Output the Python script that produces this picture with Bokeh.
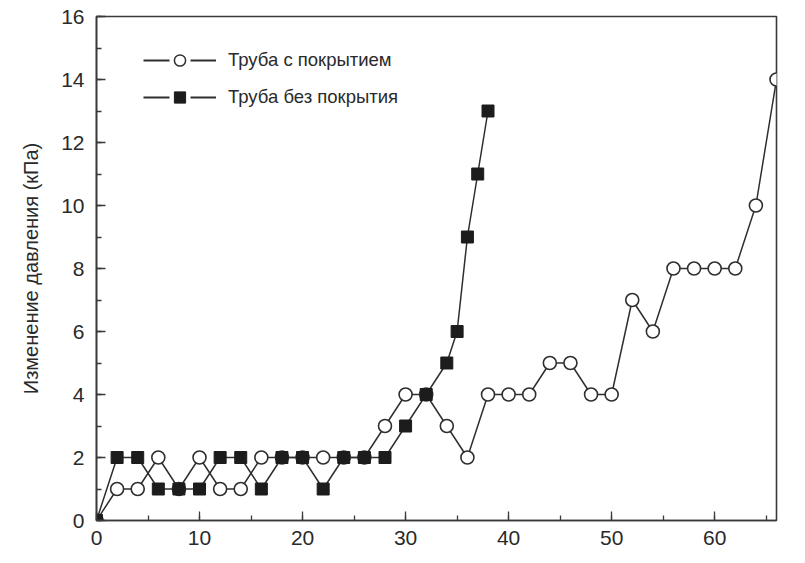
import numpy as np
from bokeh.plotting import figure
from bokeh.models import (ColumnDataSource, Legend, LegendItem,
                          SingleIntervalTicker, Range1d)
from bokeh.embed import file_html
from bokeh.resources import INLINE

# ---- data ----
coated_x = [0, 2, 4, 6, 8, 10, 12, 14, 16, 18, 20, 22, 24, 26, 28, 30, 32, 34,
            36, 38, 40, 42, 44, 46, 48, 50, 52, 54, 56, 58, 60, 62, 64, 66]
coated_y = [0, 1, 1, 2, 1, 2, 1, 1, 2, 2, 2, 2, 2, 2, 3, 4, 4, 3,
            2, 4, 4, 4, 5, 5, 4, 4, 7, 6, 8, 8, 8, 8, 10, 14]

bare_x = [0, 2, 4, 6, 8, 10, 12, 14, 16, 18, 20, 22, 24, 26, 28, 30, 32, 34,
          35, 36, 37, 38]
bare_y = [0, 2, 2, 1, 1, 1, 2, 2, 1, 2, 2, 1, 2, 2, 2, 3, 4, 5,
          6, 9, 11, 13]

label_coated = "Труба с покрытием"
label_bare = "Труба без покрытия"
y_label = "Изменение давления (кПа)"

FONT = "Liberation Sans"
INK = "#2a2a2a"
LINE = "#2e2e2e"

p = figure(width=800, height=558, output_backend="svg", toolbar_location=None,
           x_range=Range1d(0, 66), y_range=Range1d(0, 16),
           min_border_left=96, min_border_right=24, min_border_top=16,
           min_border_bottom=38)
p.grid.visible = False
p.outline_line_color = "#3a3a3a"
p.outline_line_width = 1.6
p.background_fill_color = "white"
p.border_fill_color = "white"

def style_axis(ax, major, minor_count):
    ax.ticker = SingleIntervalTicker(interval=major, num_minor_ticks=minor_count)
    ax.axis_line_color = "#3a3a3a"
    ax.axis_line_width = 1.6
    ax.major_tick_line_color = "#3a3a3a"
    ax.minor_tick_line_color = "#3a3a3a"
    ax.major_tick_line_width = 1.3
    ax.minor_tick_line_width = 1.3
    ax.major_tick_in = 9
    ax.major_tick_out = 0
    ax.minor_tick_in = 5
    ax.minor_tick_out = 0
    ax.major_label_text_font = FONT
    ax.major_label_text_font_size = "21px"
    ax.major_label_text_color = INK
    ax.major_label_standoff = 10

xa = p.xaxis[0]
ya = p.yaxis[0]
style_axis(xa, 10, 2)
style_axis(ya, 2, 2)
ya.major_label_standoff = 12
ya.axis_label = y_label
ya.axis_label_text_font = FONT
ya.axis_label_text_font_size = "20px"
ya.axis_label_text_font_style = "normal"
ya.axis_label_text_color = INK
ya.axis_label_standoff = 16

src_c = ColumnDataSource(dict(x=coated_x, y=coated_y))
src_b = ColumnDataSource(dict(x=bare_x, y=bare_y))

p.line("x", "y", source=src_c, line_color=LINE, line_width=1.5)
p.line("x", "y", source=src_b, line_color=LINE, line_width=1.5)
p.scatter("x", "y", source=src_c, marker="circle", size=13,
          fill_color="white", line_color=LINE, line_width=1.6)
p.scatter("x", "y", source=src_b, marker="square", size=12,
          fill_color="#1c1c1c", line_color="#1c1c1c", line_width=1)

# legend-only helpers (not drawn in the plot: NaN data)
blank = ColumnDataSource(dict(x=np.array([np.nan]), y=np.array([np.nan])))
lg_line = p.line("x", "y", source=blank, line_color=LINE,
                 line_width=1.8, line_dash="26 21")
lg_c = p.scatter("x", "y", source=blank, marker="circle",
                 fill_color="white", line_color=LINE, line_width=1.5)
lg_b = p.scatter("x", "y", source=blank, marker="square",
                 fill_color="#1c1c1c", line_color="#1c1c1c", line_width=1)

legend = Legend(items=[LegendItem(label=label_coated, renderers=[lg_line, lg_c]),
                       LegendItem(label=label_bare, renderers=[lg_line, lg_b])],
                location=(47, 409), orientation="vertical",
                glyph_width=73, glyph_height=28, label_standoff=12,
                spacing=9, padding=0, margin=0,
                border_line_color=None, background_fill_alpha=0,
                label_text_font=FONT, label_text_font_size="18.5px",
                label_text_color=INK)
p.add_layout(legend, "center")

open("out.html", "w").write(file_html(p, INLINE))
